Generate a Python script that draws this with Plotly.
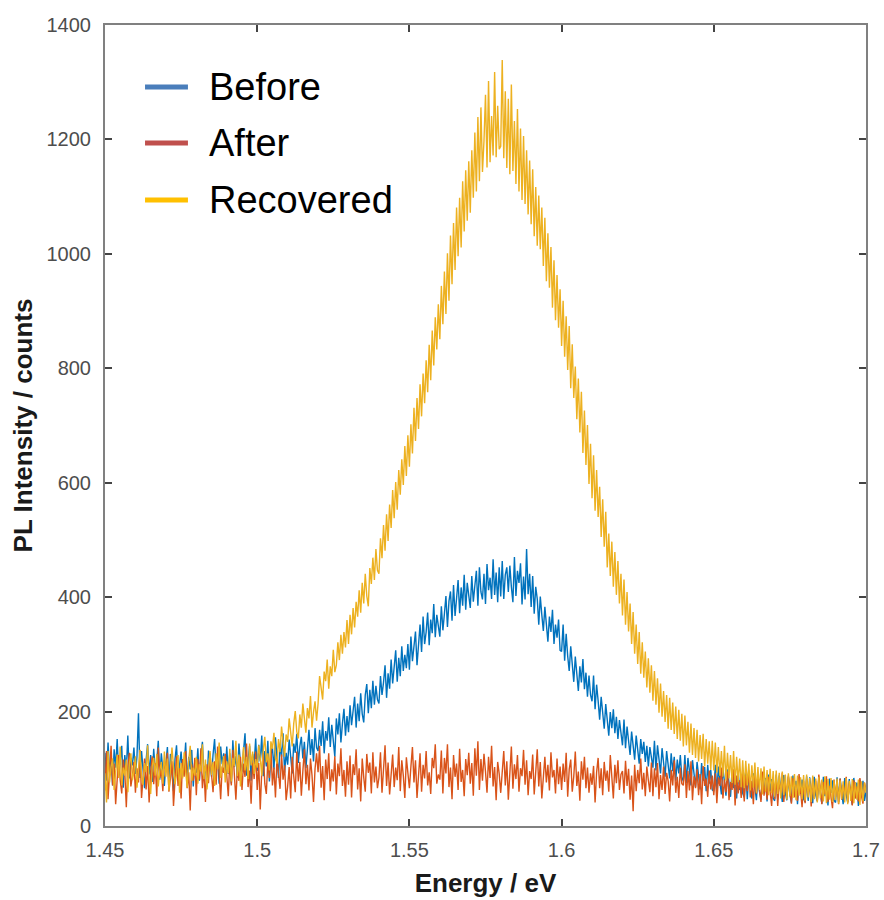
import numpy as np
import plotly.graph_objects as go

# Photon energy grid: 1.4500 ... 1.7000 eV in 0.5 meV steps (501 points)
energy = np.arange(2900, 3401) / 2000.0

# PL counts, one row per 10 meV (20 samples), last value at 1.700 eV
before = [
    128, 79, 146, 95, 118, 71, 134, 102, 152, 88, 113, 140, 67, 124, 97, 158, 83, 119, 106, 137,
    91, 121, 197, 84, 131, 102, 66, 115, 143, 90, 124, 77, 135, 98, 112, 149, 81, 127, 94, 70,
    109, 138, 72, 126, 95, 61, 117, 141, 83, 112, 130, 88, 104, 146, 75, 121, 99, 133, 69, 115,
    93, 136, 79, 121, 147, 88, 105, 69, 132, 114, 86, 125, 152, 97, 118, 74, 139, 108, 127, 90,
    139, 91, 127, 74, 150, 103, 122, 85, 144, 109, 95, 131, 162, 88, 119, 140, 79, 126, 108, 153,
    96, 142, 113, 158, 87, 131, 104, 149, 78, 125, 137, 99, 155, 116, 84, 143, 121, 162, 93, 128,
    107, 151, 119, 92, 144, 128, 161, 110, 139, 156, 118, 147, 101, 135, 168, 124, 152, 113, 171, 137,
    131, 168, 140, 183, 127, 166, 149, 190, 138, 177, 152, 121, 188, 160, 197, 146, 179, 205, 158, 192,
    164, 211, 176, 203, 226, 172, 214, 183, 232, 196, 181, 229, 248, 197, 238, 206, 254, 212, 245, 221,
    214, 262, 229, 251, 281, 224, 267, 240, 291, 249, 278, 307, 252, 294, 262, 314, 271, 299, 276, 318,
    273, 331, 288, 312, 340, 281, 326, 352, 304, 366, 318, 339, 373, 316, 361, 337, 388, 330, 369, 351,
    331, 384, 342, 371, 402, 348, 393, 410, 359, 421, 367, 398, 430, 372, 417, 385, 439, 378, 425, 403,
    381, 437, 392, 420, 446, 385, 452, 409, 396, 441, 388, 458, 412, 434, 397, 466, 404, 443, 391, 452,
    401, 463, 397, 439, 452, 409, 455, 418, 391, 470, 402, 446, 425, 459, 387, 436, 396, 484, 405, 441,
    383, 437, 371, 418, 397, 352, 401, 369, 341, 383, 357, 322, 366, 339, 378, 318, 352, 329, 361, 307,
    305, 352, 289, 336, 297, 271, 314, 283, 252, 296, 268, 236, 279, 251, 292, 239, 268, 226, 263, 229,
    218, 263, 204, 247, 219, 186, 226, 198, 170, 213, 187, 158, 199, 171, 204, 162, 191, 152, 185, 158,
    141, 186, 136, 174, 149, 124, 165, 139, 116, 158, 131, 109, 152, 126, 147, 112, 140, 104, 138, 118,
    102, 149, 97, 141, 118, 92, 136, 107, 86, 131, 101, 83, 127, 96, 121, 79, 116, 92, 124, 85,
    78, 124, 75, 119, 96, 71, 115, 88, 68, 112, 84, 64, 110, 79, 103, 61, 107, 74, 98, 63,
    61, 107, 58, 104, 77, 55, 101, 72, 53, 99, 69, 51, 97, 66, 92, 48, 95, 63, 88, 57,
    50, 97, 47, 94, 68, 48, 92, 63, 45, 91, 60, 46, 89, 57, 84, 43, 90, 61, 82, 49,
    44, 90, 46, 88, 64, 42, 89, 58, 45, 86, 55, 41, 88, 60, 79, 38, 85, 56, 81, 47,
    42, 87, 44, 85, 62, 40, 86, 54, 43, 84, 57, 39, 86, 52, 78, 36, 83, 58, 80, 45,
    41, 85, 42, 83, 59, 38, 84, 55, 41, 82, 53, 37, 84, 56, 76, 35, 81, 52, 79, 44,
    60,
]

after = [
    62, 131, 47, 98, 140, 71, 109, 38, 92, 124, 80, 57, 116, 94, 33, 103, 128, 69, 88, 112,
    58, 101, 76, 133, 49, 87, 118, 64, 105, 41, 95, 122, 73, 110, 52, 137, 84, 99, 61, 115,
    96, 128, 60, 84, 113, 35, 90, 122, 70, 101, 48, 117, 86, 131, 66, 94, 27, 108, 79, 119,
    54, 117, 81, 136, 66, 99, 42, 108, 75, 127, 90, 59, 113, 72, 139, 85, 47, 104, 93, 126,
    88, 52, 114, 71, 133, 93, 46, 102, 79, 121, 63, 109, 86, 144, 68, 97, 39, 111, 82, 130,
    63, 110, 29, 97, 128, 74, 56, 115, 84, 137, 71, 102, 50, 119, 92, 65, 125, 81, 106, 45,
    69, 103, 48, 121, 87, 59, 130, 78, 112, 53, 96, 134, 73, 107, 62, 118, 89, 42, 100, 127,
    94, 140, 67, 105, 45, 116, 82, 127, 61, 99, 78, 122, 55, 109, 87, 136, 70, 98, 51, 113,
    72, 123, 50, 108, 89, 134, 64, 101, 43, 118, 85, 60, 126, 93, 111, 57, 129, 76, 104, 66,
    85, 129, 58, 97, 141, 70, 111, 55, 93, 125, 68, 102, 80, 138, 61, 115, 88, 49, 120, 96,
    66, 104, 138, 76, 115, 49, 98, 127, 60, 107, 83, 131, 71, 94, 56, 119, 101, 143, 74, 90,
    81, 132, 57, 119, 92, 143, 68, 102, 47, 124, 86, 109, 63, 135, 77, 98, 52, 117, 89, 128,
    74, 110, 53, 136, 88, 148, 63, 117, 79, 126, 95, 58, 121, 84, 140, 69, 103, 45, 112, 91,
    58, 104, 131, 71, 113, 46, 97, 139, 65, 108, 82, 124, 60, 101, 87, 133, 72, 115, 54, 96,
    82, 125, 55, 100, 134, 69, 112, 48, 92, 121, 76, 107, 62, 129, 85, 98, 57, 118, 73, 104,
    63, 109, 77, 128, 51, 99, 116, 60, 87, 130, 70, 95, 44, 113, 81, 121, 66, 102, 58, 92,
    72, 105, 41, 94, 119, 66, 101, 54, 112, 79, 97, 60, 124, 83, 48, 107, 75, 115, 63, 90,
    96, 57, 114, 70, 100, 46, 88, 26, 107, 61, 98, 75, 118, 64, 93, 52, 104, 80, 59, 111,
    52, 101, 68, 110, 47, 89, 63, 104, 56, 93, 79, 43, 98, 71, 115, 58, 86, 49, 102, 74,
    71, 108, 49, 96, 62, 113, 45, 87, 66, 99, 54, 91, 38, 105, 70, 83, 51, 97, 64, 88,
    54, 92, 40, 85, 70, 102, 48, 81, 59, 95, 45, 77, 63, 99, 36, 88, 57, 80, 49, 93,
    43, 88, 61, 97, 50, 79, 38, 90, 56, 84, 67, 42, 95, 53, 78, 46, 86, 60, 35, 82,
    47, 86, 35, 80, 58, 93, 42, 76, 53, 88, 61, 39, 84, 50, 72, 44, 91, 56, 33, 79,
    40, 82, 57, 73, 34, 85, 49, 79, 44, 90, 62, 38, 77, 55, 87, 42, 70, 51, 31, 81,
    51, 77, 38, 83, 46, 72, 55, 86, 41, 74, 60, 36, 80, 48, 69, 43, 84, 53, 39, 76,
    62,
]

recovered = [
    92, 41, 131, 76, 104, 118, 63, 97, 125, 84, 139, 71, 102, 88, 116, 59, 108, 127, 80, 95,
    122, 67, 101, 133, 85, 72, 110, 94, 141, 78, 56, 104, 119, 88, 126, 69, 97, 112, 74, 130,
    86, 118, 62, 99, 137, 105, 73, 91, 124, 58, 110, 83, 129, 96, 67, 115, 140, 79, 102, 88,
    121, 74, 108, 95, 143, 82, 116, 64, 103, 131, 89, 112, 70, 127, 99, 146, 84, 107, 122, 76,
    113, 92, 135, 78, 119, 104, 149, 87, 125, 69, 110, 138, 97, 121, 82, 144, 106, 130, 91, 117,
    102, 141, 119, 88, 133, 156, 111, 127, 97, 148, 135, 163, 118, 109, 152, 129, 174, 140, 121, 160,
    147, 188, 162, 139, 179, 201, 165, 153, 195, 172, 214, 181, 163, 206, 188, 227, 172, 199, 218, 184,
    214, 262, 238, 221, 270, 253, 291, 240, 279, 262, 308, 269, 281, 321, 290, 334, 301, 339, 312, 360,
    318, 369, 335, 381, 347, 392, 366, 412, 373, 425, 389, 441, 402, 384, 451, 423, 469, 430, 484, 447,
    441, 503, 468, 526, 481, 545, 498, 562, 521, 587, 538, 601, 553, 622, 579, 641, 596, 664, 612, 683,
    628, 702, 651, 731, 673, 748, 694, 772, 716, 791, 739, 814, 758, 841, 779, 866, 805, 889, 833, 912,
    851, 944, 877, 969, 895, 1001, 918, 1032, 947, 1054, 972, 1081, 996, 1098, 1011, 1127, 1039, 1146, 1058, 1162,
    1072, 1181, 1098, 1212, 1109, 1239, 1127, 1256, 1143, 1197, 1278, 1151, 1302, 1160, 1241, 1172, 1318, 1169, 1259, 1183,
    1188, 1339, 1167, 1284, 1150, 1271, 1139, 1296, 1145, 1232, 1122, 1253, 1109, 1219, 1094, 1206, 1087, 1181, 1069, 1163,
    1052, 1148, 1031, 1117, 1014, 1102, 1008, 1081, 979, 1063, 952, 1036, 941, 1012, 906, 989, 884, 963, 871, 938,
    839, 918, 820, 891, 797, 874, 765, 842, 748, 803, 711, 782, 688, 759, 652, 726, 631, 701, 598, 668,
    573, 648, 551, 622, 540, 593, 505, 571, 488, 549, 452, 511, 437, 497, 418, 479, 404, 463, 389, 441,
    368, 431, 352, 409, 340, 389, 318, 374, 301, 352, 283, 339, 266, 321, 259, 305, 242, 293, 233, 281,
    219, 271, 212, 258, 198, 249, 191, 236, 182, 229, 170, 224, 168, 216, 161, 209, 152, 203, 149, 196,
    139, 193, 141, 182, 128, 179, 124, 171, 119, 168, 113, 159, 117, 161, 104, 152, 109, 148, 98, 149,
    97, 146, 93, 138, 88, 131, 86, 140, 79, 128, 83, 124, 75, 131, 72, 121, 76, 118, 68, 115,
    66, 114, 71, 109, 62, 106, 67, 111, 58, 103, 63, 101, 55, 104, 60, 98, 54, 100, 57, 96,
    51, 97, 56, 93, 48, 95, 54, 90, 46, 92, 52, 87, 49, 91, 45, 88, 53, 85, 47, 89,
    44, 90, 50, 84, 42, 88, 47, 83, 41, 86, 48, 81, 43, 87, 40, 82, 46, 84, 42, 80,
    45, 83, 39, 80, 47, 78, 41, 84, 38, 79, 44, 82, 40, 77, 46, 81, 37, 78, 43, 76,
    58,
]

series_names = ["Before", "After", "Recovered"]
series_values = [before, after, recovered]
line_colors = ["#0072BD", "#D95319", "#EDB120"]
legend_colors = ["#4A7EBB", "#C0504D", "#FFC000"]

x_ticks = [1.45, 1.5, 1.55, 1.6, 1.65, 1.7]
x_tick_text = ["1.45", "1.5", "1.55", "1.6", "1.65", "1.7"]
y_ticks = [0, 200, 400, 600, 800, 1000, 1200, 1400]

for name, vals in zip(series_names, series_values):
    if len(vals) != len(energy):
        raise ValueError(f"{name}: {len(vals)} values for {len(energy)} energies")

FONT = "Liberation Sans, Arial, Helvetica, sans-serif"

fig = go.Figure()
for name, vals, col in zip(series_names, series_values, line_colors):
    fig.add_trace(go.Scatter(
        x=energy, y=vals, mode="lines", name=name,
        line=dict(color=col, width=1.4), showlegend=False,
    ))

# Legend: thick colour bar + large label per series, upper-left of the axes
leg_y = [0.9226, 0.8527, 0.7815]
for name, col, yy in zip(series_names, legend_colors, leg_y):
    fig.add_shape(type="line", xref="paper", yref="paper",
                  x0=0.0526, x1=0.109, y0=yy, y1=yy,
                  line=dict(color=col, width=5))
    fig.add_annotation(x=0.134, y=yy, xref="paper", yref="paper",
                       text=name, showarrow=False, xanchor="left",
                       yanchor="middle",
                       font=dict(family=FONT, size=38, color="#000000"))

axis_common = dict(
    showline=True, linecolor="#808080", linewidth=2, mirror="ticks",
    ticks="inside", ticklen=7, tickwidth=1.5, tickcolor="#444444",
    showgrid=False, zeroline=False, automargin=False,
    tickfont=dict(family=FONT, size=20, color="#4d4d4d"),
    title_font=dict(family=FONT, size=26, color="#1a1a1a", weight="bold"),
)

fig.update_xaxes(range=[1.45, 1.70], tickvals=x_ticks, ticktext=x_tick_text,
                 ticklabelstandoff=5,
                 title_text="Energy / eV", title_standoff=14, **axis_common)
fig.update_yaxes(range=[0, 1400], tickvals=y_ticks, ticklabelstandoff=8,
                 title_text="PL Intensity / counts", title_standoff=6,
                 **axis_common)

fig.update_layout(
    width=884, height=900,
    margin=dict(l=105, r=18, t=25, b=74),
    paper_bgcolor="white", plot_bgcolor="white",
    font=dict(family=FONT),
)

fig.write_html("out.html")
